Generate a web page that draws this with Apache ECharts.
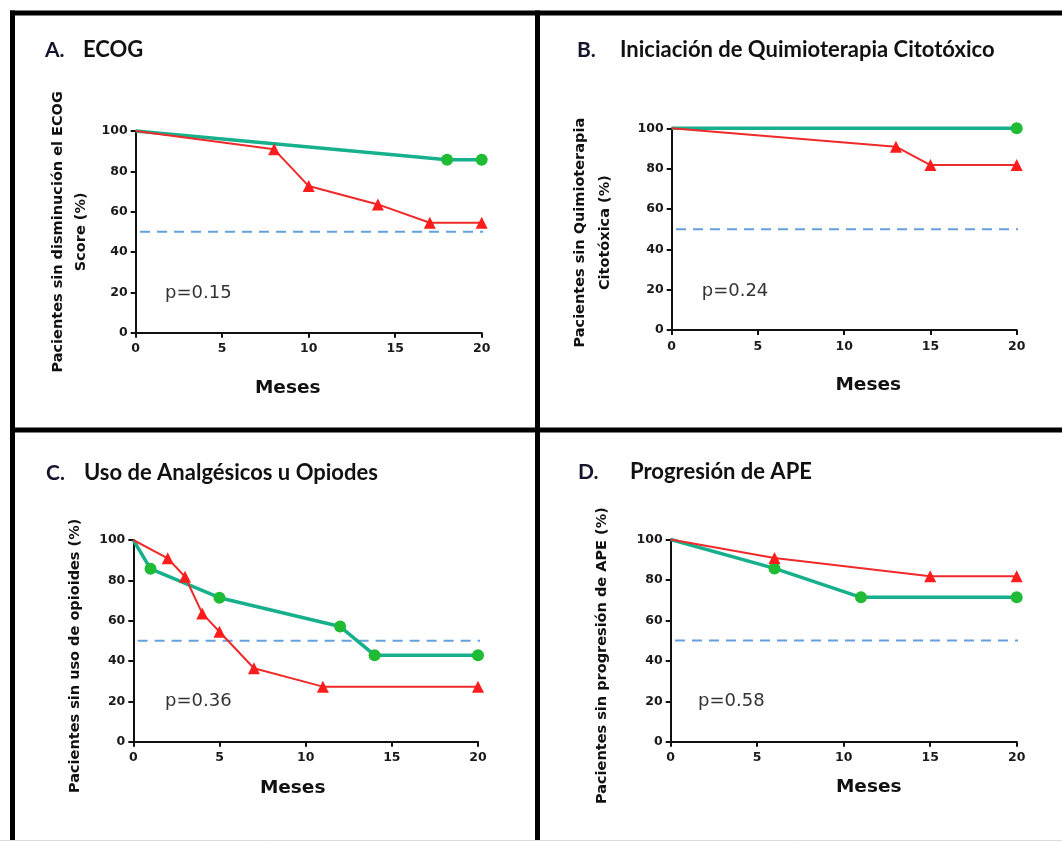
<!DOCTYPE html>
<html><head><meta charset="utf-8">
<script src="https://cdn.jsdelivr.net/npm/echarts@6/dist/echarts.min.js"></script>
<style>html,body{margin:0;padding:0;background:#fff}#c{width:1062px;height:841px}</style>
</head><body><div id="c"></div>
<script>
// ---------- data ----------
const monthsA_g = [0, 18, 20];
const survA_g   = [100, 85.7, 85.7];
const monthsA_r = [0, 8, 10, 14, 17, 20];
const survA_r   = [100, 90.9, 72.7, 63.6, 54.5, 54.5];

const monthsB_g = [0, 20];
const survB_g   = [100, 100];
const monthsB_r = [0, 13, 15, 20];
const survB_r   = [100, 90.9, 81.8, 81.8];

const monthsC_g = [0, 1, 5, 12, 14, 20];
const survC_g   = [100, 85.7, 71.4, 57.1, 42.9, 42.9];
const monthsC_r = [0, 2, 3, 4, 5, 7, 11, 20];
const survC_r   = [100, 90.9, 81.8, 63.6, 54.5, 36.4, 27.3, 27.3];

const monthsD_g = [0, 6, 11, 20];
const survD_g   = [100, 85.7, 71.4, 71.4];
const monthsD_r = [0, 6, 15, 20];
const survD_r   = [100, 90.9, 81.8, 81.8];

const refY = 50;
const refX = [0.25, 20.4];

const panelLetters = ['A.', 'B.', 'C.', 'D.'];
const panelTitles = ['ECOG', 'Iniciación de Quimioterapia Citotóxico', 'Uso de Analgésicos u Opiodes', 'Progresión de APE'];
const yNames = ['Pacientes sin disminución el ECOG\nScore (%)', 'Pacientes sin Quimioterapia\nCitotóxica (%)', 'Pacientes sin uso de opioides (%)', 'Pacientes sin progresión de APE (%)'];
const xName = 'Meses';
const pValues = ['p=0.15', 'p=0.24', 'p=0.36', 'p=0.58'];

// ---------- layout ----------
const greens = [[monthsA_g, survA_g], [monthsB_g, survB_g], [monthsC_g, survC_g], [monthsD_g, survD_g]];
const reds = [[monthsA_r, survA_r], [monthsB_r, survB_r], [monthsC_r, survC_r], [monthsD_r, survD_r]];

const gridPos = [
  {left: 135.7, top: 131, width: 346, height: 201.7},
  {left: 671.7, top: 128.3, width: 345, height: 201.7},
  {left: 133.3, top: 540, width: 344.7, height: 201.7},
  {left: 670.7, top: 539.5, width: 346, height: 202.2}
];
const yNameGap = [42.7, 54, 47, 57];
const yNameLH = [23, 25, 22, 22];
const yNamePad = [[0, 0, 0, 0], [0, 7, 0, 0], [0, 30, 0, 0], [0, 30, 0, 0]];
const xNameGap = [46, 46, 37, 36];
const xNamePad = [[0, 42, 0, 0], [0, 0, 0, 48], [0, 26, 0, 0], [0, 0, 0, 50]];
const letterPos = [[45, 50], [577, 50], [46, 473], [578, 472]];
const titlePos = [[83, 50], [620, 50], [84, 473], [630, 472]];
const pPos = [[165, 293.3], [701.7, 291.7], [165, 701.7], [698, 701.7]];

const GREEN_LINE = '#17b08c', GREEN_MK = '#1fbb34';
const RED_LINE = '#ee2a2a', RED_MK = '#ff1c1c';
const tickFont = {fontFamily: 'DejaVu Sans', fontWeight: 'bold', fontSize: 12.5, color: '#1a1a1a'};

const zip = (xs, ys) => xs.map((x, i) => [x, ys[i]]);

const grid = [], xAxis = [], yAxis = [], series = [];
for (let i = 0; i < 4; i++) {
  grid.push(Object.assign({containLabel: false}, gridPos[i]));
  xAxis.push({
    type: 'value', gridIndex: i, min: 0, max: 20, interval: 5,
    name: xName, nameLocation: 'middle', nameGap: xNameGap[i],
    nameTextStyle: {fontFamily: 'DejaVu Sans', fontWeight: 'bold', fontSize: 18.5, color: '#111', padding: xNamePad[i]},
    axisLine: {show: true, onZero: false, lineStyle: {color: '#111', width: 2}},
    axisTick: {show: true, inside: false, length: 5, lineStyle: {color: '#111', width: 2}},
    axisLabel: Object.assign({margin: 10}, tickFont),
    splitLine: {show: false}
  });
  yAxis.push({
    type: 'value', gridIndex: i, min: 0, max: 100, interval: 20,
    name: yNames[i], nameLocation: 'middle', nameGap: yNameGap[i],
    nameTextStyle: {fontFamily: 'DejaVu Sans', fontWeight: 'bold', fontSize: 14.5, color: '#111', lineHeight: yNameLH[i], padding: yNamePad[i]},
    axisLine: {show: true, onZero: false, lineStyle: {color: '#111', width: 2}},
    axisTick: {show: true, inside: false, length: 5, lineStyle: {color: '#111', width: 2}},
    axisLabel: Object.assign({margin: 8}, tickFont),
    splitLine: {show: false}
  });
  series.push({
    type: 'line', xAxisIndex: i, yAxisIndex: i, clip: false, silent: true,
    data: refX.map(x => [x, refY]), symbol: 'none',
    lineStyle: {color: '#66a0dc', width: 2, type: [10, 7]}, z: 1
  });
  series.push({
    type: 'line', xAxisIndex: i, yAxisIndex: i, clip: false,
    data: zip(greens[i][0], greens[i][1]),
    symbol: 'circle', symbolSize: (v, p) => p.dataIndex === 0 ? 0 : 12,
    showAllSymbol: true,
    lineStyle: {color: GREEN_LINE, width: 3.5},
    itemStyle: {color: GREEN_MK}, z: 2
  });
  series.push({
    type: 'line', xAxisIndex: i, yAxisIndex: i, clip: false,
    data: zip(reds[i][0], reds[i][1]),
    symbol: 'triangle', symbolSize: (v, p) => p.dataIndex === 0 ? 0 : 12,
    showAllSymbol: true,
    lineStyle: {color: RED_LINE, width: 2},
    itemStyle: {color: RED_MK}, z: 3
  });
}

const graphic = [];
// panel borders
const bw = 5;
graphic.push({type: 'line', shape: {x1: 10, y1: 13, x2: 1062, y2: 13}, style: {stroke: '#000', lineWidth: bw}});
graphic.push({type: 'line', shape: {x1: 12.5, y1: 10.5, x2: 12.5, y2: 841}, style: {stroke: '#000', lineWidth: bw}});
graphic.push({type: 'line', shape: {x1: 537.5, y1: 10.5, x2: 537.5, y2: 841}, style: {stroke: '#000', lineWidth: bw}});
graphic.push({type: 'line', shape: {x1: 10, y1: 430, x2: 1062, y2: 430}, style: {stroke: '#000', lineWidth: bw}});
graphic.push({type: 'line', shape: {x1: 0, y1: 840.5, x2: 1062, y2: 840.5}, style: {stroke: '#dcdcdc', lineWidth: 1}});
for (let i = 0; i < 4; i++) {
  graphic.push({type: 'text', x: letterPos[i][0], y: letterPos[i][1],
    style: {text: panelLetters[i], font: 'bold 21px Lato', fill: '#15152e', align: 'left', verticalAlign: 'middle'}});
  graphic.push({type: 'text', x: titlePos[i][0], y: titlePos[i][1],
    style: {text: panelTitles[i], font: 'bold 22px Lato', fill: '#111', align: 'left', verticalAlign: 'middle'}});
  graphic.push({type: 'text', x: pPos[i][0], y: pPos[i][1],
    style: {text: pValues[i], font: '18px "DejaVu Sans"', fill: '#333', align: 'left', verticalAlign: 'middle'}});
}

const chart = echarts.init(document.getElementById('c'), null, {renderer: 'canvas'});
chart.setOption({backgroundColor: '#fff', animation: false, grid, xAxis, yAxis, series, graphic});
</script></body></html>
